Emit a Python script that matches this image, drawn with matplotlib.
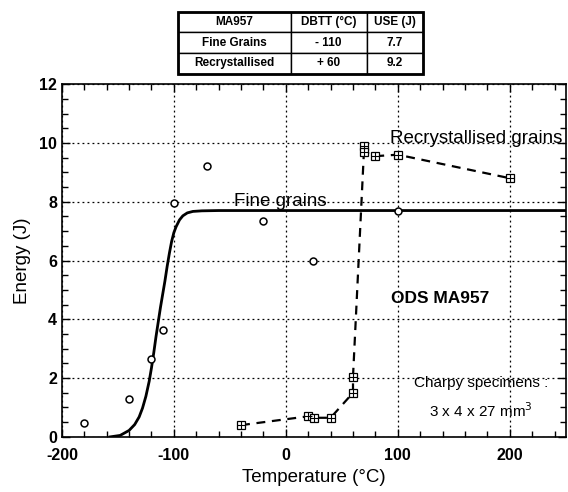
import numpy as np
import matplotlib.pyplot as plt
from matplotlib.ticker import MultipleLocator

plt.rcParams['font.family'] = ['Liberation Sans', 'DejaVu Sans']
plt.rcParams['axes.unicode_minus'] = False

# fine grains data (circles)
fine_T = [-180, -140, -120, -110, -100, -70, -20, 24, 100]
fine_E = [0.47, 1.30, 2.65, 3.64, 7.95, 9.23, 7.33, 6.0, 7.68]

# fitted curve for fine grains
fit_T = [-157, -148, -140, -135, -131, -128, -125, -122, -120, -118, -116, -114,
         -112, -110, -108, -106, -104, -102, -100, -98, -95, -92, -88, -83, -75, -60, 250]
fit_E = [0.0, 0.05, 0.22, 0.42, 0.68, 0.98, 1.38, 1.9, 2.35, 2.85, 3.4, 3.9,
         4.4, 4.85, 5.3, 5.8, 6.25, 6.65, 6.95, 7.15, 7.38, 7.52, 7.62, 7.67, 7.69, 7.7, 7.7]

# recrystallised grains data (squares)
rec_T = [-40, 20, 25, 40, 60, 60, 70, 70, 80, 100, 200]
rec_E = [0.4, 0.7, 0.65, 0.65, 1.5, 2.05, 9.9, 9.7, 9.55, 9.6, 8.8]

# table content
tab_cols = ['MA957', 'DBTT (°C)', 'USE (J)']
tab_rows = [['Fine Grains', '- 110', '7.7'],
            ['Recrystallised', '+ 60', '9.2']]

fig = plt.figure(figsize=(5.68, 4.92), dpi=100)
ax = fig.add_axes([0.109, 0.112, 0.887, 0.717])

ax.plot(fit_T, fit_E, color='black', lw=2.0, zorder=3)
ax.plot(fine_T, fine_E, 'o', mfc='white', mec='black', ms=5.0, mew=1.1, zorder=4)
ax.plot(rec_T, rec_E, '--', color='black', lw=1.6, dashes=(4, 3), zorder=3)
ax.plot(rec_T, rec_E, 's', mfc='white', mec='black', ms=5.2, mew=0.9, zorder=4)
ax.plot(rec_T, rec_E, '+', color='black', ms=5.2, mew=0.8, zorder=5)

ax.set_xlim(-200, 250)
ax.set_ylim(0, 12)
ax.xaxis.set_major_locator(MultipleLocator(100))
ax.xaxis.set_minor_locator(MultipleLocator(20))
ax.yaxis.set_major_locator(MultipleLocator(2))
ax.yaxis.set_minor_locator(MultipleLocator(0.5))
ax.tick_params(which='both', direction='in', top=True, right=True, width=1.0)
ax.tick_params(which='major', length=6, labelsize=11.5)
ax.tick_params(which='minor', length=4)
for lab in ax.get_xticklabels() + ax.get_yticklabels():
    lab.set_fontweight('bold')
ax.tick_params(axis='x', pad=8)
ax.grid(True, which='major', linestyle=(0, (1.5, 2.5)), color='black', lw=0.9)
for s in ax.spines.values():
    s.set_linewidth(1.2)

ax.set_xlabel('Temperature (°C)', fontsize=13.5)
ax.set_ylabel('Energy (J)', fontsize=13.5, labelpad=6)

ax.text(-46, 7.85, 'Fine grains', fontsize=13.5)
ax.text(93, 10.0, 'Recrystallised grains', fontsize=13.5)
ax.text(138, 4.7, 'ODS MA957', fontsize=12.5, fontweight='bold', ha='center', va='center')
ax.text(174, 1.85, 'Charpy specimens :', fontsize=11, ha='center', va='center')
ax.text(174, 0.9, '3 x 4 x 27 mm$^3$', fontsize=11, ha='center', va='center')

# table above the plot
tax = fig.add_axes([0.313, 0.850, 0.432, 0.126])
tax.axis('off')
tbl = tax.table(cellText=tab_rows, colLabels=tab_cols, cellLoc='center',
                bbox=[0, 0, 1, 1], colWidths=[0.46, 0.31, 0.23])
tbl.auto_set_font_size(False)
tbl.set_fontsize(8.5)
for (r, c), cell in tbl.get_celld().items():
    cell.set_linewidth(1.0)
    cell.get_text().set_fontweight('bold')
tax.add_patch(plt.Rectangle((0, 0), 1, 1, fill=False, lw=2.0, transform=tax.transAxes, clip_on=False))

fig.savefig('out.png', dpi=100)
